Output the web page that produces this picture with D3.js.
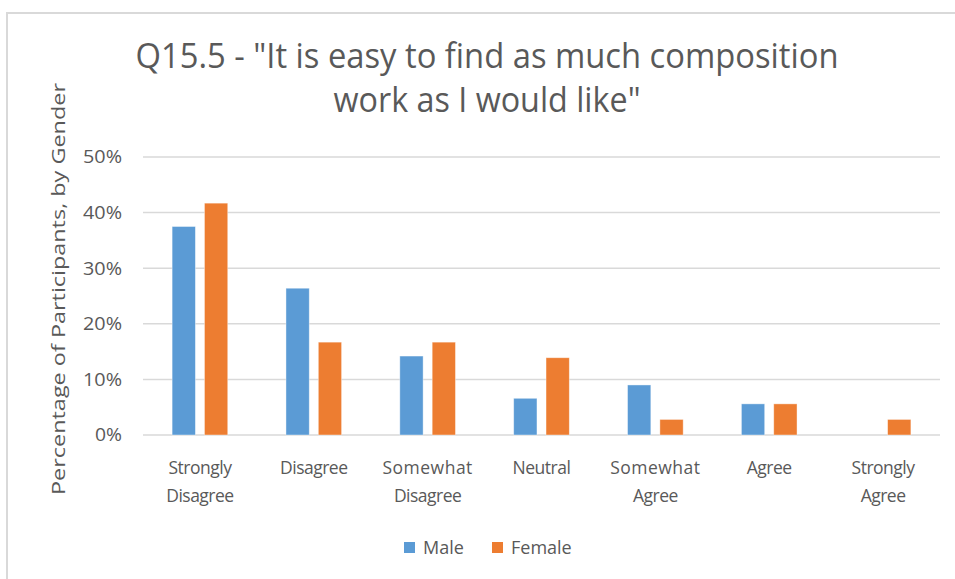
<!DOCTYPE html>
<html><head><meta charset="utf-8">
<script src="https://cdn.jsdelivr.net/npm/d3@7"></script>
<style>body{margin:0;background:#fff;}svg{display:block;}</style>
</head><body>
<svg id="c" width="955" height="579"></svg>
<script>
const categories = [["Strongly","Disagree"],["Disagree"],["Somewhat","Disagree"],["Neutral"],["Somewhat","Agree"],["Agree"],["Strongly","Agree"]];
const seriesNames = ["Male","Female"];
const maleValues = [37.5, 26.4, 14.2, 6.6, 9.0, 5.6, 0];
const femaleValues = [41.7, 16.7, 16.7, 13.9, 2.8, 5.6, 2.8];
const yTicks = [0,10,20,30,40,50];
const titleLines = ["Q15.5 - \"It is easy to find as much composition", "work as I would like\""];
const yTitle = "Percentage of Participants, by Gender";
const colors = ["#5b9bd5","#ed7d31"];

(function(){
const svg = d3.select("#c");
const font = "'Open Sans', 'DejaVu Sans', sans-serif";
const txt = "#595959";

// chart frame
svg.append("rect").attr("x",7).attr("y",13).attr("width",1000).attr("height",1000)
  .attr("fill","#fff").attr("stroke","#d9d9d9").attr("stroke-width",2);

const pL = 143, pR = 940, pT = 157, pB = 435;
const x = d3.scaleBand().domain(d3.range(categories.length)).range([pL,pR]).paddingInner(0).paddingOuter(0);
const y = d3.scaleLinear().domain([0,50]).range([pB, pT]);

// gridlines
svg.append("g").selectAll("line").data(yTicks).join("line")
  .attr("x1",pL).attr("x2",pR).attr("y1",d=>y(d)).attr("y2",d=>y(d))
  .attr("stroke","#d9d9d9").attr("stroke-width",1.5);

// y ticks
svg.append("g").selectAll("text").data(yTicks).join("text")
  .attr("x",122).attr("y",d=>y(d)).attr("dy","0.36em").attr("text-anchor","end")
  .attr("font-family",font).attr("font-size",17.5).attr("fill",txt)
  .attr("textLength",d=>d===0?27:39).attr("lengthAdjust","spacingAndGlyphs").text(d=>d+"%");

// bars
const inner = d3.scaleBand().domain([0,1]).range([0, x.bandwidth()]).paddingInner(0.28).paddingOuter(0.9);
const series = [maleValues, femaleValues];
series.forEach((vals, si) => {
  svg.append("g").selectAll("rect").data(vals).join("rect")
    .attr("x",(d,i)=>x(i)+inner(si)).attr("width",inner.bandwidth())
    .attr("y",d=>y(d)).attr("height",d=>pB-y(d))
    .attr("fill",colors[si]).attr("stroke","#fff").attr("stroke-opacity",0.5).attr("stroke-width",0.8)
    .attr("display",d=>d>0?null:"none");
});

// category labels
const cl = svg.append("g").selectAll("text").data(categories).join("text")
  .attr("text-anchor","middle").attr("font-family",font).attr("font-size",17.5).attr("fill",txt)
  .attr("transform",(d,i)=>`translate(${x(i)+x.bandwidth()/2},474)`);
cl.selectAll("tspan").data(d=>d).join("tspan").attr("x",0).attr("dy",(d,j)=>j?28:0)
  .attr("letter-spacing",d=>d==="Somewhat"?"0.5px":"-0.5px").text(d=>d);

// title
svg.append("g").selectAll("text").data(titleLines).join("text")
  .attr("x",487).attr("y",(d,i)=>68+i*44).attr("text-anchor","middle")
  .attr("font-family",font).attr("font-size",34).attr("fill",txt)
  .attr("textLength",(d,i)=>i?307:703).attr("lengthAdjust","spacingAndGlyphs").text(d=>d);

// y title
svg.append("text").attr("transform","translate(65,289) rotate(-90)").attr("text-anchor","middle")
  .attr("font-family",font).attr("font-size",19).attr("fill",txt)
  .attr("textLength",412).attr("lengthAdjust","spacingAndGlyphs").text(yTitle);

// legend
const lg = svg.append("g");
const legendX = [404, 492];
seriesNames.forEach((n,i)=>{
  lg.append("rect").attr("x",legendX[i]).attr("y",542).attr("width",11).attr("height",11).attr("fill",colors[i]);
  lg.append("text").attr("x",legendX[i]+19).attr("y",548).attr("dy","0.36em")
    .attr("font-family",font).attr("font-size",18).attr("fill",txt).text(n);
});
})();
</script>
</body></html>
